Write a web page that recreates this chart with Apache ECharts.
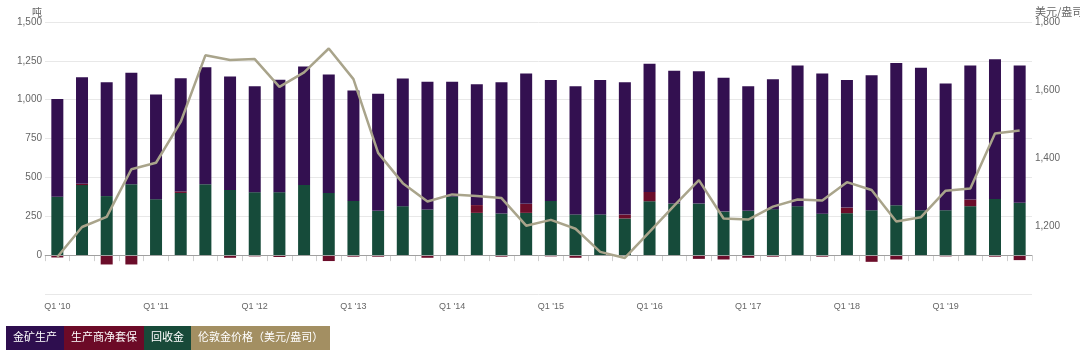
<!DOCTYPE html>
<html>
<head>
<meta charset="utf-8">
<script src="https://cdn.jsdelivr.net/npm/echarts@6/dist/echarts.min.js"></script>
<style>
html,body{margin:0;padding:0;background:#fff;}
#chart{width:1080px;height:356px;}
</style>
</head>
<body>
<div id="chart"></div>
<script>
var categories = [
 "Q1 '10","Q2 '10","Q3 '10","Q4 '10",
 "Q1 '11","Q2 '11","Q3 '11","Q4 '11",
 "Q1 '12","Q2 '12","Q3 '12","Q4 '12",
 "Q1 '13","Q2 '13","Q3 '13","Q4 '13",
 "Q1 '14","Q2 '14","Q3 '14","Q4 '14",
 "Q1 '15","Q2 '15","Q3 '15","Q4 '15",
 "Q1 '16","Q2 '16","Q3 '16","Q4 '16",
 "Q1 '17","Q2 '17","Q3 '17","Q4 '17",
 "Q1 '18","Q2 '18","Q3 '18","Q4 '18",
 "Q1 '19","Q2 '19","Q3 '19","Q4 '19"
];
// 金矿生产 (tonnes)
var mineProduction = [629,685,732,718, 674,728,753,730, 681,724,762,763, 711,754,821,822,
  738,777,844,838, 778,824,865,851, 824,855,851,862, 801,835,905,901, 821,868,916,916, 816,862,898,883];
// 生产商净套保 (tonnes)
var netHedging = [-15,8,-60,-60, 0,10,0,-17, -8,-12,0,-38, -10,-10,-5,-17,
  0,50,-10,58, -8,-17,-3,25, 60,-3,-24,-28, -17,-10,0,-10, 36,-43,-28,0, -8,43,-10,-32];
// 回收金 (tonnes)
var recycledGold = [376,451,380,456, 360,400,456,419, 405,405,451,400, 349,285,315,294,
  378,272,268,272, 349,262,262,236, 347,332,332,280, 285,296,315,267, 270,289,321,289, 289,315,362,337];
// 伦敦金价格（美元/盎司）
var goldPrice = [1109,1197,1227,1367, 1386,1506,1702,1688, 1691,1609,1652,1722, 1632,1415,1326,1272,
  1293,1288,1282,1201, 1218,1192,1124,1106, 1183,1260,1335,1222, 1219,1257,1278,1275, 1329,1306,1213,1226, 1304,1310,1472,1481];

var leftTicks = [-250, 1500, 250];   // min, max, interval (吨)
var rightTicks = [1000, 1800, 200];  // min, max, interval (美元/盎司)

var legendItems = ["金矿生产","生产商净套保","回收金","伦敦金价格（美元/盎司）"];
var legendColors = ['#2e0e4f','#6c0a27','#184a39','#a38f62'];

var FONT = "'Liberation Sans', Arial, 'Noto Sans CJK SC', sans-serif";
var CJK = "'Noto Sans CJK SC', sans-serif";

var chart = echarts.init(document.getElementById('chart'));

var legendX = [6, 64, 144, 191];
var legendW = [58, 80, 47, 139];
var graphics = [];
legendItems.forEach(function (name, i) {
  graphics.push({
    type: 'rect', left: legendX[i], top: 326,
    shape: {width: legendW[i], height: 24},
    style: {fill: legendColors[i]}, silent: true
  });
  graphics.push({
    type: 'text', left: legendX[i] + 7, top: 331,
    style: {text: name, fill: '#fff', font: '11px ' + CJK}, silent: true
  });
});

var fmt = function (v) { return v.toLocaleString('en-US'); };

chart.setOption({
  animation: false,
  grid: {left: 45, right: 48, top: 22, bottom: 62, containLabel: false, outerBoundsMode: 'none'},
  xAxis: {
    type: 'category',
    data: categories,
    boundaryGap: true,
    axisLine: {lineStyle: {color: '#cfcfcf'}},
    axisTick: {show: true, interval: 0, length: 6, lineStyle: {color: '#cfcfcf'}},
    axisLabel: {interval: 3, color: '#666', fontSize: 9, margin: 8, fontFamily: FONT}
  },
  yAxis: [{
    type: 'value',
    min: leftTicks[0], max: leftTicks[1], interval: leftTicks[2],
    name: '吨',
    nameGap: 5,
    nameTextStyle: {color: '#666', fontSize: 10, align: 'right', padding: [0, 3, 0, 0], fontFamily: CJK},
    axisLine: {show: false},
    axisTick: {show: false},
    axisLabel: {color: '#666', fontSize: 10, margin: 3, fontFamily: FONT,
      formatter: function (v) { return v < 0 ? '' : fmt(v); }},
    splitLine: {show: true, lineStyle: {color: '#e8e8e8'}}
  }, {
    type: 'value',
    min: rightTicks[0], max: rightTicks[1], interval: rightTicks[2],
    name: '美元/盎司',
    nameGap: 4,
    nameTextStyle: {color: '#666', fontSize: 11, align: 'left', padding: [0, 0, 0, 3], fontFamily: CJK},
    axisLine: {show: false},
    axisTick: {show: false},
    axisLabel: {color: '#666', fontSize: 10, margin: 3, fontFamily: FONT,
      formatter: function (v) { return v <= rightTicks[0] ? '' : fmt(v); }},
    splitLine: {show: false}
  }],
  graphic: graphics,
  series: [{
    name: '回收金', type: 'bar', stack: 'supply', barWidth: 12,
    data: recycledGold, itemStyle: {color: '#164b3a'},
    markLine: {
      silent: true, symbol: 'none', label: {show: false},
      lineStyle: {color: '#a0a0a0', width: 1, type: 'solid'},
      data: [{yAxis: 0}]
    }
  }, {
    name: '生产商净套保', type: 'bar', stack: 'supply', barWidth: 12,
    data: netHedging, itemStyle: {color: '#6b0d2a'}
  }, {
    name: '金矿生产', type: 'bar', stack: 'supply', barWidth: 12,
    data: mineProduction, itemStyle: {color: '#331050'}
  }, {
    name: '伦敦金价格（美元/盎司）', type: 'line', yAxisIndex: 1,
    data: goldPrice, symbol: 'none', z: 5,
    lineStyle: {color: '#a9a48b', width: 2.5}
  }]
});
</script>
</body>
</html>
